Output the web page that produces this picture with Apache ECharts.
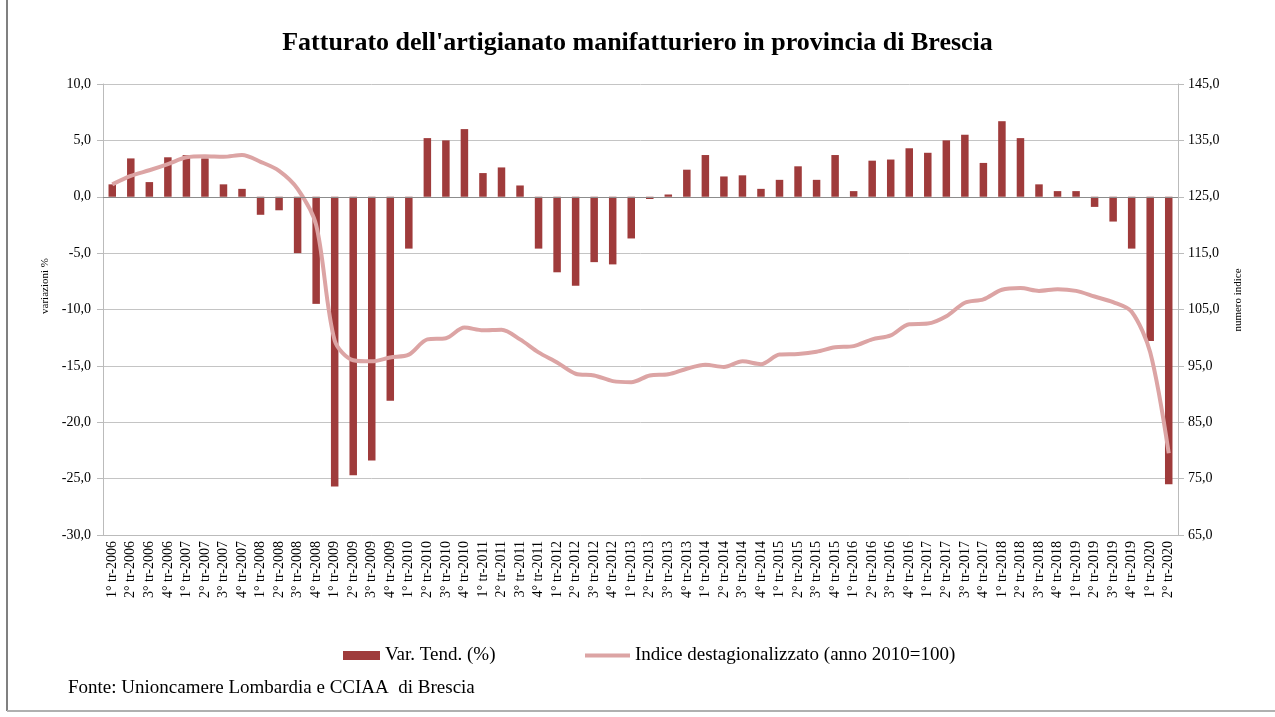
<!DOCTYPE html>
<html>
<head>
<meta charset="utf-8">
<script src="https://cdn.jsdelivr.net/npm/echarts@6/dist/echarts.min.js"></script>
<style>
html,body{margin:0;padding:0;background:#fff;}
#chart{width:1275px;height:717px;}
</style>
</head>
<body>
<div id="chart"></div>
<script>
var categories = [
 "1° tr-2006","2° tr-2006","3° tr-2006","4° tr-2006",
 "1° tr-2007","2° tr-2007","3° tr-2007","4° tr-2007",
 "1° tr-2008","2° tr-2008","3° tr-2008","4° tr-2008",
 "1° tr-2009","2° tr-2009","3° tr-2009","4° tr-2009",
 "1° tr-2010","2° tr-2010","3° tr-2010","4° tr-2010",
 "1° tr-2011","2° tr-2011","3° tr-2011","4° tr-2011",
 "1° tr-2012","2° tr-2012","3° tr-2012","4° tr-2012",
 "1° tr-2013","2° tr-2013","3° tr-2013","4° tr-2013",
 "1° tr-2014","2° tr-2014","3° tr-2014","4° tr-2014",
 "1° tr-2015","2° tr-2015","3° tr-2015","4° tr-2015",
 "1° tr-2016","2° tr-2016","3° tr-2016","4° tr-2016",
 "1° tr-2017","2° tr-2017","3° tr-2017","4° tr-2017",
 "1° tr-2018","2° tr-2018","3° tr-2018","4° tr-2018",
 "1° tr-2019","2° tr-2019","3° tr-2019","4° tr-2019",
 "1° tr-2020","2° tr-2020"
];
var varTend = [
 1.1, 3.4, 1.3, 3.5,
 3.7, 3.4, 1.1, 0.7,
 -1.6, -1.2, -5.0, -9.5,
 -25.7, -24.7, -23.4, -18.1,
 -4.6, 5.2, 5.0, 6.0,
 2.1, 2.6, 1.0, -4.6,
 -6.7, -7.9, -5.8, -6.0,
 -3.7, -0.2, 0.2, 2.4,
 3.7, 1.8, 1.9, 0.7,
 1.5, 2.7, 1.5, 3.7,
 0.5, 3.2, 3.3, 4.3,
 3.9, 5.0, 5.5, 3.0,
 6.7, 5.2, 1.1, 0.5,
 0.5, -0.9, -2.2, -4.6,
 -12.8, -25.5
];
var indice = [
 127.2, 128.7, 129.7, 130.8,
 132.0, 132.2, 132.1, 132.4,
 131.2, 129.6, 126.4, 120.0,
 99.5, 96.0, 95.8, 96.5,
 97.0, 99.7, 99.9, 101.8,
 101.3, 101.4, 99.7, 97.4,
 95.6, 93.6, 93.3, 92.3,
 92.1, 93.3, 93.5, 94.5,
 95.2, 94.8, 95.8, 95.3,
 97.0, 97.1, 97.5, 98.3,
 98.5, 99.7, 100.4, 102.4,
 102.5, 103.8, 106.2, 106.8,
 108.5, 108.8, 108.3, 108.6,
 108.3, 107.3, 106.3, 104.6,
 97.4, 79.5
];
var leftTicks = [-30, -25, -20, -15, -10, -5, 0, 5, 10];
var rightTicks = [65, 75, 85, 95, 105, 115, 125, 135, 145];

var serif = '"Liberation Serif", "DejaVu Serif", serif';
function fmt(v){ return v.toFixed(1).replace('.', ','); }

var chart = echarts.init(document.getElementById('chart'), null, {renderer:'canvas'});
chart.setOption({
  animation: false,
  backgroundColor: '#ffffff',
  title: {
    text: "Fatturato dell'artigianato manifatturiero in provincia di Brescia",
    left: 'center', top: 25,
    textStyle: {fontFamily: serif, fontSize: 26, fontWeight: 'bold', color: '#000'}
  },
  legend: [{
    data: [{name: 'Var. Tend. (%)', icon: 'rect'}],
    left: 338, top: 641,
    itemWidth: 37, itemHeight: 9, itemGap: 4,
    textStyle: {fontFamily: serif, fontSize: 19, color: '#000'}
  },{
    data: [{name: 'Indice destagionalizzato (anno 2010=100)', icon: 'rect'}],
    left: 580, top: 641,
    itemWidth: 45, itemHeight: 4,
    textStyle: {fontFamily: serif, fontSize: 19, color: '#000'}
  }],
  grid: {left: 103, right: 97, top: 84, bottom: 182, containLabel: false},
  xAxis: {
    type: 'category',
    data: categories,
    boundaryGap: true,
    axisLine: {show: true, onZero: false, lineStyle: {color: '#bbbbbb'}},
    axisTick: {show: false},
    axisLabel: {rotate: 90, interval: 0, fontFamily: serif, fontSize: 14, color: '#000', margin: 6}
  },
  yAxis: [{
    type: 'value',
    min: -30, max: 10, interval: 5,
    axisLine: {show: true, lineStyle: {color: '#bbbbbb'}},
    axisTick: {show: true, inside: false, length: 6, lineStyle: {color: '#bbbbbb'}},
    axisLabel: {formatter: fmt, fontFamily: serif, fontSize: 14, color: '#000', margin: 12},
    splitLine: {show: true, lineStyle: {color: '#c4c4c4', width: 1}}
  },{
    type: 'value',
    min: 65, max: 145,
    axisLine: {show: true, lineStyle: {color: '#bbbbbb'}},
    axisTick: {show: true, length: 6, customValues: rightTicks, lineStyle: {color: '#bbbbbb'}},
    axisLabel: {customValues: rightTicks, formatter: fmt, fontFamily: serif, fontSize: 14, color: '#000', margin: 10},
    splitLine: {show: false}
  }],
  series: [{
    name: 'Var. Tend. (%)',
    type: 'bar',
    yAxisIndex: 0,
    data: varTend,
    barWidth: 7.5,
    itemStyle: {color: '#9f3b3b'},
    markLine: {
      silent: true, symbol: 'none', label: {show: false},
      lineStyle: {color: '#8c8c8c', type: 'solid', width: 1.2},
      data: [{yAxis: 0}]
    },
    z: 2
  },{
    name: 'Indice destagionalizzato (anno 2010=100)',
    type: 'line',
    yAxisIndex: 1,
    data: indice,
    smooth: 0.3,
    symbol: 'none',
    lineStyle: {color: '#dca4a4', width: 4},
    itemStyle: {color: '#dca4a4'},
    z: 3
  }],
  graphic: [{
    type: 'text', x: 45, y: 286, rotation: Math.PI / 2,
    style: {text: 'variazioni %', font: '11px ' + serif, fill: '#000', align: 'center', verticalAlign: 'middle'}
  },{
    type: 'text', x: 1238, y: 300, rotation: Math.PI / 2,
    style: {text: 'numero indice', font: '11px ' + serif, fill: '#000', align: 'center', verticalAlign: 'middle'}
  },{
    type: 'text', left: 68, top: 679,
    style: {text: 'Fonte: Unioncamere Lombardia e CCIAA  di Brescia', font: '19px ' + serif, fill: '#000'}
  },{
    type: 'line', shape: {x1: 7, y1: 0, x2: 7, y2: 711},
    style: {stroke: '#808080', lineWidth: 2}
  },{
    type: 'line', shape: {x1: 7, y1: 711, x2: 1275, y2: 711},
    style: {stroke: '#b0b0b0', lineWidth: 2}
  }]
});
</script>
</body>
</html>
